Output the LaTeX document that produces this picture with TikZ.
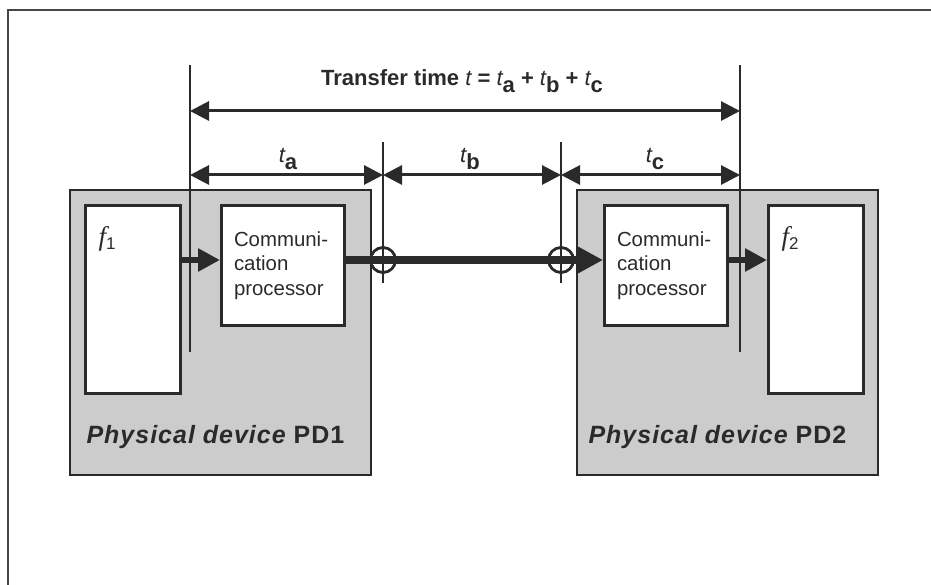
\documentclass[tikz,border=0pt]{standalone}
\usepackage{fontspec}
\setmainfont{Liberation Sans}
\newfontfamily\timesfont{Liberation Serif}
\newfontfamily\devfont[LetterSpace=4]{Liberation Sans}
\usetikzlibrary{arrows.meta, positioning}
\definecolor{inkDark}{RGB}{42, 42, 42}
\definecolor{deviceGray}{RGB}{204, 204, 204}
\definecolor{frameGray}{RGB}{70, 70, 70}
\newcommand{\tsub}[1]{\raisebox{-7pt}{\bfseries #1}}
\newcommand{\tvar}[1]{{\mdseries\itshape t}\tsub{#1}}
\newcommand{\fsub}[1]{\raisebox{-4pt}{\fontsize{17}{17}\selectfont\normalfont #1}}
\tikzset{
  deviceBox/.style={
    draw=inkDark,
    line width=2pt,
    fill=deviceGray,
    anchor=north west,
    inner sep=0pt,
    minimum width=301pt,
    minimum height=285pt
  },
  funcBox/.style={
    draw=inkDark,
    line width=3pt,
    fill=white,
    anchor=north west,
    inner sep=0pt,
    minimum width=95pt,
    minimum height=188pt
  },
  procBox/.style={
    funcBox,
    minimum width=123pt,
    minimum height=120pt,
    text width=98pt,
    align=left,
    text=inkDark,
    font=\fontsize{20.4}{24.5}\selectfont
  },
  joint/.style={
    circle,
    draw=inkDark,
    line width=2.5pt,
    minimum size=25pt,
    inner sep=0pt
  },
  dimLine/.style={
    draw=inkDark,
    line width=2pt
  },
  dimArrow/.style={
    draw=inkDark,
    line width=3pt,
    {Triangle[length=19pt,width=19pt]}-{Triangle[length=19pt,width=19pt]}
  },
  flowArrow/.style={
    draw=inkDark,
    line width=6pt,
    -{Triangle[length=22pt,width=22pt]}
  },
  busArrow/.style={
    draw=inkDark,
    line width=8pt,
    -{Triangle[length=25pt,width=25pt]}
  },
  timeLabel/.style={
    anchor=base,
    text=inkDark,
    font=\fontsize{22}{22}\selectfont\bfseries
  },
  devLabel/.style={
    anchor=base west,
    text=inkDark,
    font=\fontsize{25}{25}\selectfont\devfont\bfseries
  },
  funcLabel/.style={
    anchor=base west,
    text=inkDark,
    font=\fontsize{27}{27}\selectfont\timesfont\itshape
  }
}
\begin{document}
\begin{tikzpicture}[x=1pt, y=-1pt]
  \useasboundingbox (0,0) rectangle (931,585);
  \draw[frameGray, line width=2pt] (8,585) -- (8,10) -- (931,10);
  % Physical devices
  \node[deviceBox] (pd1) at (69,189) {};
  \node[deviceBox] (pd2) at (576,189) {};
  \node[funcBox] (f1) at (84,204) {};
  \node[funcBox] (f2) at (767,204) {};
  \node[procBox] (cp1) at (220,204) {Communi-\\cation\\processor};
  \node[procBox] (cp2) at (603,204) {Communi-\\cation\\processor};
  \node[devLabel] (pd1Label) at (83,443) {\itshape Physical device \upshape PD1};
  \node[devLabel] (pd2Label) at (585,443) {\itshape Physical device \upshape PD2};
  \node[funcLabel] (f1Label) at (95,246) {f\fsub{1}};
  \node[funcLabel] (f2Label) at (778,246) {f\fsub{2}};
  % Measuring points
  \coordinate (mA) at (190,65);
  \coordinate (mB) at (383,142);
  \coordinate (mC) at (561,142);
  \coordinate (mD) at (740,65);
  \node[joint] (j1) at (383,260) {};
  \node[joint] (j2) at (561,260) {};
  % Data flow
  \draw[flowArrow] (f1.east |- j1) -- (cp1.west |- j1);
  \draw[busArrow] (cp1.east |- j1) -- (cp2.west |- j2);
  \draw[flowArrow] (cp2.east |- j2) -- (f2.west |- j2);
  \node[joint] at (j1) {};
  \node[joint] at (j2) {};
  \foreach \m/\y in {mA/352, mB/283, mC/283, mD/352}
    \draw[dimLine] (\m) -- (\m |- 0,\y);
  % Time spans
  \draw[dimArrow] (mA |- 0,111) -- (mD |- 0,111);
  \draw[dimArrow] (mA |- 0,175) -- (mB |- 0,175);
  \draw[dimArrow] (mB |- 0,175) -- (mC |- 0,175);
  \draw[dimArrow] (mC |- 0,175) -- (mD |- 0,175);
  \node[timeLabel] (total) at (462,86) {Transfer time {\mdseries\itshape t} = \tvar{a} + \tvar{b} + \tvar{c}};
  \node[timeLabel] (ta) at (288,163) {\tvar{a}};
  \node[timeLabel] (tb) at (470,163) {\tvar{b}};
  \node[timeLabel] (tc) at (655,163) {\tvar{c}};
\end{tikzpicture}
\end{document}
